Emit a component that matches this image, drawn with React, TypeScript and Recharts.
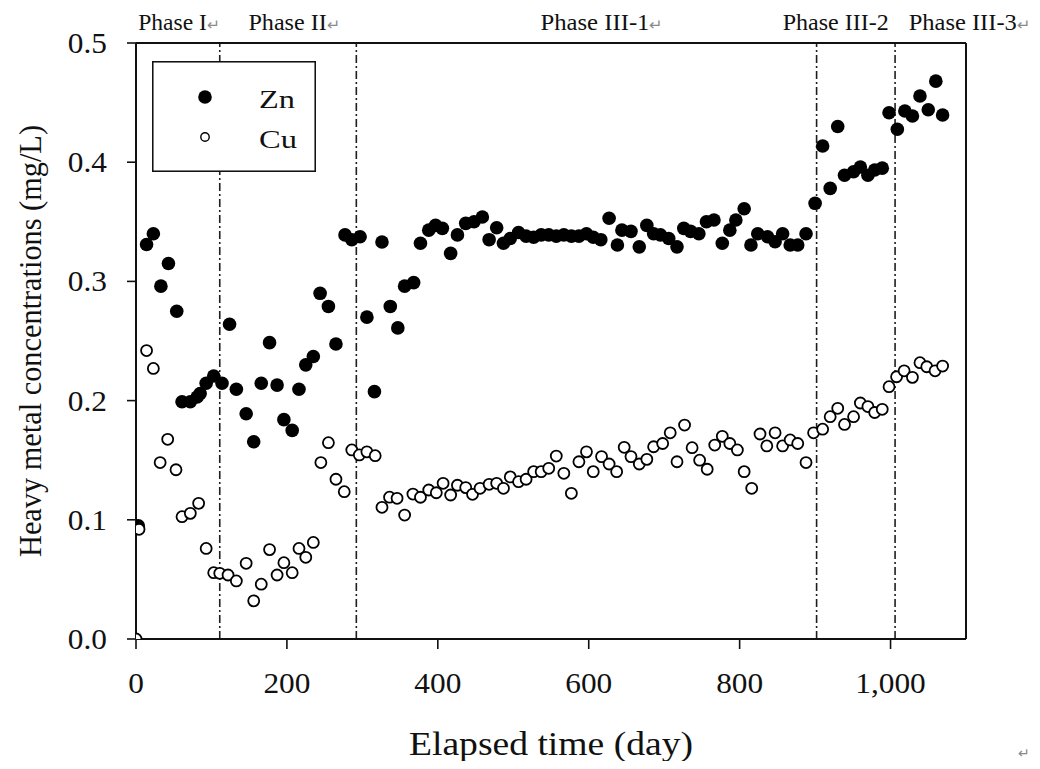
import React from 'react';
import { ScatterChart, Scatter, XAxis, YAxis, ReferenceLine, Legend } from 'recharts';

// ---------------- data ----------------
const znDays = [3, 14, 23, 33, 43, 54, 61, 72, 81, 85, 93, 103, 114, 124, 133, 146, 156, 166, 177, 187, 196, 207, 216, 225, 235, 244, 255, 265, 277, 286, 297, 306, 316, 326, 337, 347, 356, 368, 377, 388, 397, 406, 417, 426, 437, 448, 459, 468, 478, 487, 496, 507, 517, 527, 537, 547, 557, 567, 577, 587, 597, 606, 616, 627, 638, 644, 656, 667, 677, 686, 695, 706, 717, 726, 735, 746, 756, 766, 777, 787, 795, 806, 815, 824, 837, 847, 857, 867, 877, 888, 900, 910, 920, 930, 939, 951, 960, 970, 979, 989, 998, 1009, 1019, 1029, 1039, 1050, 1060, 1069];
const znValues = [0.095, 0.331, 0.34, 0.296, 0.315, 0.275, 0.199, 0.199, 0.203, 0.206, 0.2145, 0.2206, 0.2145, 0.264, 0.2095, 0.189, 0.1655, 0.2145, 0.2486, 0.213, 0.184, 0.175, 0.2095, 0.23, 0.237, 0.29, 0.279, 0.2475, 0.339, 0.335, 0.3375, 0.27, 0.2075, 0.333, 0.279, 0.261, 0.296, 0.299, 0.332, 0.343, 0.347, 0.3445, 0.3235, 0.339, 0.3487, 0.35, 0.354, 0.335, 0.345, 0.332, 0.336, 0.341, 0.338, 0.337, 0.339, 0.339, 0.338, 0.339, 0.338, 0.338, 0.34, 0.337, 0.335, 0.353, 0.3305, 0.343, 0.342, 0.329, 0.347, 0.34, 0.339, 0.336, 0.329, 0.3445, 0.342, 0.34, 0.35, 0.3515, 0.332, 0.343, 0.3515, 0.361, 0.3305, 0.34, 0.3375, 0.3333, 0.34, 0.3305, 0.3305, 0.34, 0.3655, 0.4136, 0.378, 0.43, 0.389, 0.392, 0.396, 0.389, 0.3935, 0.395, 0.4415, 0.4276, 0.443, 0.4388, 0.4555, 0.444, 0.468, 0.4396];

const cuDays = [0, 4, 14, 23, 32, 42, 53, 61, 72, 83, 93, 103, 111, 122, 133, 146, 156, 166, 177, 187, 196, 207, 216, 225, 235, 245, 255, 265, 276, 286, 296, 306, 317, 326, 336, 346, 356, 367, 377, 388, 398, 407, 417, 426, 437, 446, 456, 468, 478, 487, 496, 507, 517, 527, 537, 547, 557, 567, 577, 587, 597, 606, 617, 627, 637, 647, 656, 667, 677, 686, 698, 708, 717, 727, 737, 747, 757, 767, 777, 787, 797, 806, 816, 827, 836, 847, 857, 867, 877, 888, 898, 910, 920, 930, 939, 951, 960, 970, 979, 989, 998, 1008, 1018, 1029, 1039, 1048, 1059, 1069];
const cuValues = [0.0, 0.092, 0.242, 0.227, 0.148, 0.1675, 0.142, 0.1026, 0.1054, 0.1138, 0.076, 0.0556, 0.0551, 0.0537, 0.0487, 0.0635, 0.032, 0.046, 0.075, 0.0537, 0.064, 0.0556, 0.076, 0.0685, 0.081, 0.148, 0.1647, 0.134, 0.1236, 0.1586, 0.1544, 0.157, 0.1538, 0.1105, 0.119, 0.118, 0.104, 0.1216, 0.1189, 0.125, 0.1227, 0.1306, 0.1208, 0.129, 0.127, 0.1214, 0.1264, 0.1298, 0.1306, 0.1264, 0.136, 0.132, 0.134, 0.1404, 0.1404, 0.1432, 0.1535, 0.139, 0.1222, 0.1487, 0.157, 0.1404, 0.153, 0.1468, 0.1404, 0.1608, 0.153, 0.1468, 0.1507, 0.1613, 0.164, 0.173, 0.1487, 0.1795, 0.1605, 0.15, 0.1424, 0.1627, 0.17, 0.164, 0.1586, 0.1404, 0.1264, 0.172, 0.162, 0.173, 0.162, 0.167, 0.164, 0.148, 0.173, 0.176, 0.1865, 0.1935, 0.18, 0.1865, 0.198, 0.195, 0.19, 0.1927, 0.2117, 0.22, 0.225, 0.2195, 0.2318, 0.2284, 0.225, 0.229];

const xTicks = [0, 200, 400, 600, 800, 1000];
const yTicks = [0, 0.1, 0.2, 0.3, 0.4, 0.5];
const phaseBoundaries = [111, 292, 902, 1006];
const phaseLabelDays = [3, 149, 536, 857, 1024];
const phaseLabels = ['Phase I', 'Phase II', 'Phase III-1', 'Phase III-2', 'Phase III-3'];
const phaseHasMark = [true, true, true, false, true];
const seriesOrder = ['Zn', 'Cu'];

// ---------------- styles ----------------
const FONT = '"Liberation Serif", "Times New Roman", Times, serif';
const INK = '#111';
const phaseTextWidths = [82, 92, 123, 106, 122];

const znData = znDays.map((d, i) => ({ day: d, value: znValues[i] }));
const cuData = cuDays.map((d, i) => ({ day: d, value: cuValues[i] }));

const fmtX = (v: number) => (v >= 1000 ? v.toLocaleString('en-US') : String(v));
const digitWidth = (s: string, fs: number) => {
  let w = 0;
  for (const ch of s) w += ch === '.' || ch === ',' ? 0.25 : 0.5;
  return w * fs * 1.08;
};

const YTick = (props: any) => {
  const { x, y, payload } = props;
  const s = Number(payload.value).toFixed(1);
  return (
    <text x={x} y={y} dy={10} textAnchor="end" fontFamily={FONT} fontSize={29} fill={INK}
      textLength={digitWidth(s, 29)} lengthAdjust="spacingAndGlyphs">{s}</text>
  );
};

const XTick = (props: any) => {
  const { x, y, payload } = props;
  const s = fmtX(Number(payload.value));
  return (
    <text x={x} y={y} dy={20} textAnchor="middle" fontFamily={FONT} fontSize={29} fill={INK}
      textLength={digitWidth(s, 29)} lengthAdjust="spacingAndGlyphs">{s}</text>
  );
};

const PhaseLabel = (props: any) => {
  const { idx } = props;
  const vb = props.viewBox || { x: 0, y: 35 };
  return (
    <text x={vb.x} y={vb.y - 13} textAnchor="start" fontFamily={FONT} fontSize={23} fill={INK}
      textLength={phaseTextWidths[idx]} lengthAdjust="spacingAndGlyphs">
      {phaseLabels[idx]}
      {phaseHasMark[idx] ? <tspan fill="#8a8a8a" fontSize={15}>↵</tspan> : null}
    </text>
  );
};

const XLabel = (props: any) => {
  const vb = props.viewBox || { x: 128, y: 631, width: 830, height: 80 };
  return (
    <g>
      <text x={vb.x + vb.width / 2} y={vb.y + 116} textAnchor="middle" fontFamily={FONT} fontSize={33}
        fill={INK} textLength={284} lengthAdjust="spacingAndGlyphs">Elapsed time (day)</text>
      <text x={1010} y={750} fontSize={14} fill="#888" fontFamily={FONT}>↵</text>
    </g>
  );
};

const YLabel = (props: any) => {
  const vb = props.viewBox || { x: 28, y: 35, width: 100, height: 596 };
  const cx = vb.x + 5;
  const cy = vb.y + vb.height / 2;
  return (
    <text x={cx} y={cy} transform={`rotate(-90, ${cx}, ${cy})`} textAnchor="middle" fontFamily={FONT}
      fontSize={31} fill={INK} textLength={432} lengthAdjust="spacingAndGlyphs">
      Heavy metal concentrations (mg/L)
    </text>
  );
};

const ZnShape = (p: any) => <circle cx={p.cx} cy={p.cy} r={6.8} fill="#000" />;
const CuShape = (p: any) => <circle cx={p.cx} cy={p.cy} r={5.5} fill="#fff" stroke="#000" strokeWidth={1.8} />;

const LegendBox = (props: any) => {
  const items: any[] = [...(props.payload || [])].sort(
    (a, b) => seriesOrder.indexOf(a.value) - seriesOrder.indexOf(b.value)
  );
  return (
    <svg width={164} height={111} style={{ display: 'block' }}>
      <rect x={0.75} y={0.75} width={162.5} height={109.5} fill="#fff" stroke={INK} strokeWidth={1.6} />
      {items.map((it, i) => {
        const cy = 36 + i * 40;
        const isZn = it.value === 'Zn';
        return (
          <g key={it.value}>
            {isZn ? <circle cx={53} cy={cy} r={6.8} fill="#000" />
              : <circle cx={53} cy={cy} r={4.2} fill="#fff" stroke="#000" strokeWidth={1.4} />}
            <text x={107} y={cy + 11} fontFamily={FONT} fontSize={26} fill={INK}
              textLength={isZn ? 36 : 38} lengthAdjust="spacingAndGlyphs">{it.value}</text>
          </g>
        );
      })}
    </svg>
  );
};

export default function App() {
  return (
    <ScatterChart width={1024} height={753} margin={{ top: 5, right: 64, bottom: 42, left: 28 }}>
      <XAxis xAxisId="top" orientation="top" type="number" domain={[0, 1100]} allowDataOverflow
        tick={false} tickLine={false} height={30} axisLine={{ stroke: INK, strokeWidth: 2 }} />
      <XAxis xAxisId="main" dataKey="day" type="number" domain={[0, 1100]} ticks={xTicks} interval={0}
        allowDataOverflow tickSize={10} tickMargin={24} height={80}
        axisLine={{ stroke: INK, strokeWidth: 2 }} tickLine={{ stroke: INK, strokeWidth: 1.6 }}
        tick={<XTick />} label={<XLabel />} />
      <YAxis yAxisId="main" dataKey="value" type="number" domain={[0, 0.5]} ticks={yTicks} interval={0}
        allowDataOverflow tickSize={9} tickMargin={20} width={100}
        axisLine={{ stroke: INK, strokeWidth: 2 }} tickLine={{ stroke: INK, strokeWidth: 1.6 }}
        tick={<YTick />} label={<YLabel />} />
      <YAxis yAxisId="right" orientation="right" type="number" domain={[0, 0.5]} tick={false}
        tickLine={false} width={2} axisLine={{ stroke: INK, strokeWidth: 2 }} />
      {phaseBoundaries.map((d) => (
        <ReferenceLine key={d} xAxisId="main" yAxisId="main" x={d} stroke="#1e1e1e" strokeWidth={1.6}
          strokeDasharray="8 3 2 3" />
      ))}
      {phaseLabelDays.map((d, i) => (
        <ReferenceLine key={`lab-${d}`} xAxisId="main" yAxisId="main" x={d} stroke="none"
          label={<PhaseLabel idx={i} />} />
      ))}
      <Legend layout="horizontal" verticalAlign="middle" align="center" content={<LegendBox />}
        wrapperStyle={{ left: 144, top: 53, width: 164, height: 111 }} />
      <Scatter name="Zn" data={znData} xAxisId="main" yAxisId="main" shape={<ZnShape />}
        isAnimationActive={false} legendType="circle" />
      <Scatter name="Cu" data={cuData} xAxisId="main" yAxisId="main" shape={<CuShape />}
        isAnimationActive={false} legendType="circle" />
    </ScatterChart>
  );
}
